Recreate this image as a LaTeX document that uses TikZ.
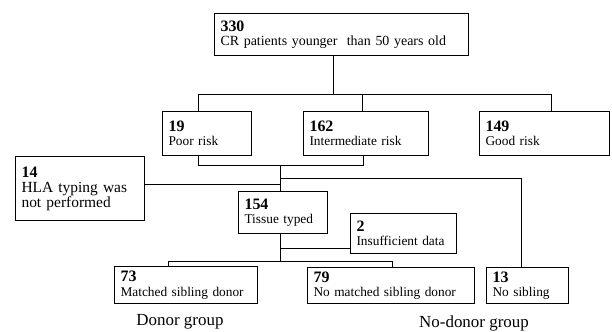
\documentclass[tikz,border=0pt]{standalone}
\usepackage{fontspec}
\setmainfont{Liberation Serif}
\newcommand\numb[1]{{\fontsize{16}{14.5}\selectfont\bfseries #1}}
\tikzset{
  box/.style={draw, line width=1.1pt, inner xsep=6bp, inner ysep=1bp, align=left,
    anchor=north west, font=\fontsize{13.4}{14.5}\selectfont},
  conn/.style={line width=0.9pt},
  grouplbl/.style={font=\fontsize{17}{18}\selectfont, inner sep=0pt}
}
\begin{document}
\begin{tikzpicture}[x=1bp,y=-1bp]
\useasboundingbox (0,0) rectangle (612,331);
% boxes
\node[box, text width=242bp, minimum height=42bp, font=\fontsize{14}{14.5}\selectfont] (top) at (214,13) {\numb{330}\\CR patients younger\ \ than 50 years old};
\node[box, text width=77bp, minimum height=44bp] (p19) at (162,111) {\numb{19}\\Poor risk};
\node[box, text width=113bp, minimum height=44bp] (i162) at (303,111) {\numb{162}\\Intermediate risk};
\node[box, text width=118bp, minimum height=44bp] (g149) at (479,111) {\numb{149}\\Good risk};
\node[box, text width=117bp, minimum height=64bp, font=\fontsize{15.5}{15}\selectfont] (h14) at (15,156) {\numb{14}\\HLA typing was\\not performed};
\node[box, text width=77bp, minimum height=42bp] (t154) at (238,191) {\numb{154}\\Tissue typed};
\node[box, text width=94bp, minimum height=40bp] (i2) at (350,213) {\numb{2}\\Insufficient data};
\node[box, text width=131bp, minimum height=37bp] (m73) at (114,266) {\numb{73}\\Matched sibling donor};
\node[box, text width=155bp, minimum height=36bp] (n79) at (307,267) {\numb{79}\\No matched sibling donor};
\node[box, text width=70bp, minimum height=36bp] (n13) at (486,267) {\numb{13}\\No sibling};
% labels
\node[grouplbl, anchor=base] (dg) at (180,325) {Donor group};
\node[grouplbl, anchor=base] (ndg) at (474,327) {No-donor group};
% junction coordinates
\coordinate (j0) at (333,94);
\coordinate (s19) at (198,94);
\coordinate (s162) at (362,94);
\coordinate (s149) at (551,94);
\coordinate (l19) at (198,165);
\coordinate (l162) at (363,165);
\coordinate (t1) at (280,165);
\coordinate (t2) at (280,178);
\coordinate (ns) at (521,178);
\coordinate (t3) at (280,184);
\coordinate (t4) at (280,248);
\coordinate (t5) at (280,261);
\coordinate (b73) at (168,261);
\coordinate (b79) at (392,261);
% connectors
\draw[conn] (top.south -| j0) -- (j0);
\draw[conn] (p19.north -| s19) -- (s19) -- (s149) -- (g149.north -| s149);
\draw[conn] (s162) -- (i162.north -| s162);
\draw[conn] (p19.south -| l19) -- (l19) -- (l162) -- (i162.south -| l162);
\draw[conn] (t1) -- (t154.north -| t1);
\draw[conn] (t2) -- (ns) -- (n13.north -| ns);
\draw[conn] (h14.east |- t3) -- (t3);
\draw[conn] (t154.south -| t5) -- (t5);
\draw[conn] (t4) -- (i2.west |- t4);
\draw[conn] (m73.north -| b73) -- (b73) -- (b79) -- (n79.north -| b79);
\end{tikzpicture}
\end{document}
